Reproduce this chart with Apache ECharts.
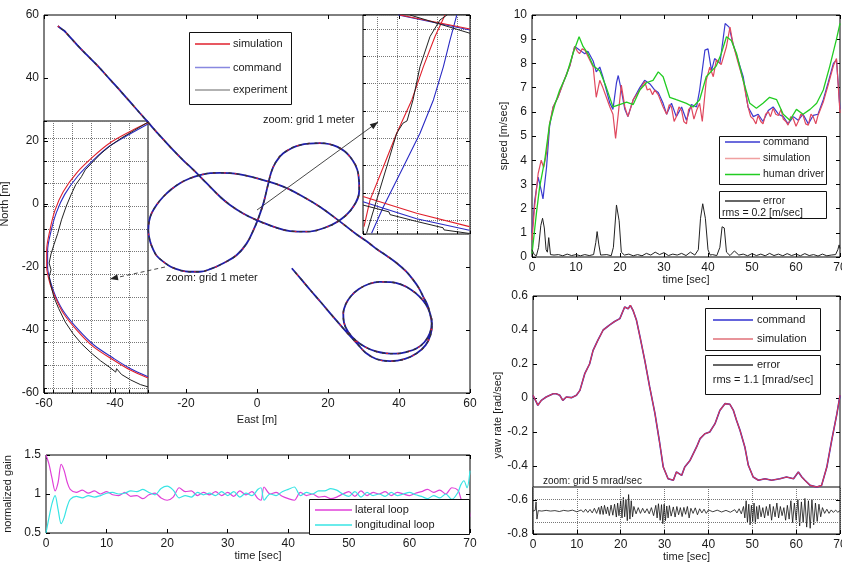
<!DOCTYPE html>
<html>
<head>
<meta charset="utf-8">
<script src="https://cdn.jsdelivr.net/npm/echarts@6/dist/echarts.min.js"></script>
<style>
html,body{margin:0;padding:0;background:#fff;}
#main{width:842px;height:564px;}
</style>
</head>
<body>
<div id="main"></div>
<script>
// trajectory East/North [m]
var pathEN = [
[-56.1,56.5],[-55.2,55.7],[-54.3,55.0],[-53.4,53.9],[-52.2,52.4],[-50.5,50.3],[-48,47.4],[-45,44],[-41.3,39.4],[-38,35.3],[-34.5,30.8],[-30.9,26.2],[-27.3,21.6],[-23.6,17.1],[-20.7,13.8],[-17.9,10.8],[-14.2,6.6],[-10.4,2.3],[-7.6,-0.3],[-3.9,-3.0],[-0.1,-5.1],[4.6,-7.2],[9.3,-8.6],[14,-8.8],[18.7,-7.7],[23.4,-5.1],[27.1,-0.9],[28.8,4.4],[28.5,9.7],[26.2,15],[22.5,18.2],[17.7,19.3],[12.1,18.7],[7.4,16.1],[5.1,12.9],[3.9,9.7],[3.2,6.6],[2.5,3.3],[1.8,0.2],[0.4,-4.5],[-1.0,-8.3],[-2.9,-12.5],[-5.7,-16.2],[-9.5,-18.8],[-13,-20.6],[-16.1,-21.5],[-19,-21.5],[-21.7,-21.0],[-24.3,-19.9],[-26.4,-18.3],[-28.2,-16.5],[-29.2,-14.6],[-30.2,-11.5],[-30.6,-8.3],[-30.4,-5.5],[-29.7,-3.0],[-28.3,-0.3],[-26.4,2.3],[-24.2,4.6],[-21.7,6.6],[-19,8.1],[-16.1,9.2],[-13.2,9.8],[-10.4,9.9],[-7.6,9.8],[-4.8,9.4],[-1.5,8.6],[1.8,7.6],[7.4,5.5],[13.0,2.3],[17.7,-0.9],[23.4,-5.6],[28,-9.6],[31.8,-12.6],[33.7,-14.3],[36.6,-16.5],[39.4,-18.8],[42,-21.4],[44,-24.1],[45.6,-26.7],[46.8,-29.4],[48.0,-32],[48.7,-34.7],[49.2,-37.9],[48.7,-41.0],[47.2,-43.8],[45,-45.8],[42,-47],[39,-47.5],[36.5,-47.4],[33.5,-46.8],[30.5,-45.4],[27.8,-43.3],[25.7,-40.6],[24.5,-37.6],[24.3,-34.8],[25,-31.8],[26.5,-29.2],[28.7,-27],[31.5,-25.4],[34.6,-24.7],[37.7,-24.8],[40.7,-25.6],[43.4,-27.2],[45.7,-29.3],[47.6,-31.9],[48.8,-34.9],[49.3,-38],[48.9,-41.5],[47.5,-44.8],[45,-47.4],[41.7,-49.2],[37.5,-49.9],[33.6,-49.2],[30.6,-47.2],[28.5,-44.7],[26.2,-41.9],[24.0,-39.1],[21,-35.2],[18,-31.2],[15,-27.3],[12.3,-23.7],[9.8,-20.4]
];

// left zoom window (1 m grid)
var zoomLeftSim = [[5.0,11.68],[4.04,11.28],[2.99,10.78],[2.10,10.17],[1.24,9.46],[0.54,8.64],[0.11,7.83],[-0.16,6.95],[-0.33,6.07],[-0.33,5.34],[-0.16,4.61],[0.11,4.02],[0.54,3.30],[1.24,2.56],[2.12,1.82],[3.16,1.24],[4.04,0.80],[5.0,0.44]];
var zoomLeftCmd = [[5.0,11.62],[4.05,11.18],[3.0,10.66],[2.15,10.05],[1.32,9.34],[0.62,8.52],[0.18,7.72],[-0.1,6.9],[-0.28,6.05],[-0.28,5.3],[-0.1,4.6],[0.16,4.0],[0.6,3.32],[1.3,2.6],[2.17,1.88],[3.2,1.3],[4.06,0.86],[5.0,0.5]];
var zoomLeftExp = [[5.0,11.7],[4.3,11.35],[3.6,11.0],[3.0,10.65],[2.5,10.3],[2.1,9.95],[1.7,9.6],[1.5,9.3],[1.2,8.95],[0.95,8.5],[0.7,8.0],[0.45,7.4],[0.25,6.8],[0.05,6.3],[-0.1,5.9],[-0.2,5.5],[-0.1,5.2],[-0.2,4.9],[-0.1,4.5],[0.05,4.0],[0.3,3.5],[0.65,2.9],[1.05,2.4],[1.5,1.95],[2.0,1.55],[2.5,1.2],[3.0,0.9],[3.3,0.7],[3.35,0.85],[3.6,0.6],[4.1,0.35],[4.6,0.15],[5.0,0.05]];

// right zoom window (1 m grid)
var zoomRightSim = [[[-0.65,-0.24],[-0.35,0.73],[0.32,1.95],[0.985,3.18],[1.74,4.40],[2.32,5.62],[2.9,6.72],[3.4,7.51]],[[1.15,7.51],[4.65,7.0]],[[-0.7,0.86],[1.98,0.25],[4.62,-0.24]]];
var zoomRightCmd = [[[-0.27,-0.48],[0.32,0.49],[1.32,1.95],[2.15,3.18],[2.82,4.40],[3.32,5.62],[3.65,6.59],[3.99,7.51]],[[1.07,7.51],[4.65,6.96]],[[-0.7,0.67],[1.98,0.05],[4.62,-0.37]]];
var zoomRightExp = [[[-0.52,-0.48],[-0.02,0.73],[0.485,1.95],[0.985,3.18],[1.3,3.55],[1.5,3.63],[1.8,4.40],[2.15,5.62],[2.65,6.72],[3.15,7.33],[3.5,7.51]],[[1.65,7.51],[4.65,6.84]],[[-0.7,0.55],[0.6,0.3],[0.65,0.2],[1.98,-0.05],[3.3,-0.28],[3.35,-0.36],[4.62,-0.49]]];

// normalized gain
var gainLat = [[0,1.5],[0.5,1.38],[1,1.2],[1.5,1.04],[2,1.15],[2.5,1.38],[3,1.3],[3.5,1.15],[4,1.06],[5,1.02],[6,1.05],[7,1.01],[8,1.04],[9,1.0],[10,1.03],[11,0.99],[12,0.98],[13,1.02],[14,0.97],[15,0.98],[16,0.94],[17,0.99],[18,1.01],[19,0.95],[20,0.92],[21,0.96],[22,1.08],[23,1.03],[24,1.04],[25,0.98],[26,1.02],[27,0.99],[28,1.03],[29,0.98],[30,1.02],[31,0.97],[32,1.04],[33,0.99],[34,1.03],[35,0.94],[35.5,0.92],[36,1.09],[37,1.0],[38,1.02],[39,0.97],[40,0.94],[41,0.92],[42,1.02],[43,0.98],[44,1.0],[45,0.96],[46,0.97],[47,0.94],[48,0.96],[49,1.0],[50,1.03],[51,0.97],[52,1.04],[53,0.98],[54,1.02],[55,1.0],[56,1.03],[57,0.98],[58,1.02],[59,1.0],[60,0.98],[61,1.01],[62,1.03],[63,1.06],[64,1.02],[65,1.05],[66,1.0],[67,1.08],[68,1.05],[68.5,0.94],[69,0.84],[69.5,0.93],[70,0.71]];
var gainLon = [[0,0.5],[0.5,0.7],[1,0.88],[1.5,0.98],[2,0.8],[2.5,0.62],[3,0.7],[3.5,0.84],[4,0.93],[5,0.97],[6,0.95],[7,0.98],[8,0.96],[9,0.98],[10,1.01],[11,1.02],[12,1.0],[13,1.01],[14,1.04],[15,1.03],[16,1.06],[17,1.02],[18,0.99],[19,1.07],[20,1.1],[21,1.05],[22,0.95],[23,0.98],[24,0.96],[25,1.02],[26,0.99],[27,1.01],[28,0.98],[29,1.03],[30,0.98],[31,1.03],[32,0.96],[33,1.01],[34,0.98],[35,1.06],[35.5,1.08],[36,0.92],[37,1.0],[38,0.98],[39,1.03],[40,1.06],[41,1.09],[42,0.98],[43,1.02],[44,1.0],[45,1.04],[46,1.04],[47,1.07],[48,1.05],[49,1.0],[50,0.97],[51,1.03],[52,0.96],[53,1.02],[54,0.98],[55,1.0],[56,0.97],[57,1.02],[58,0.98],[59,1.0],[60,1.02],[61,0.99],[62,0.97],[63,0.94],[64,0.98],[65,0.95],[66,1.0],[67,0.93],[68,1.02],[68.5,1.12],[69,1.17],[69.5,1.08],[70,1.3]];

// speed [m/sec]
var speedCmd = [[0,1.0],[0.6,2.3],[1.4,3.3],[2.1,2.75],[2.5,2.4],[3.3,3.7],[4.0,5.4],[4.8,6.2],[5.9,6.6],[7.1,7.2],[8.6,7.9],[9.7,8.7],[10.8,8.55],[12,8.4],[12.7,8.5],[13.9,8.1],[14.6,7.65],[15.4,7.85],[16.1,7.45],[16.9,6.9],[17.7,6.35],[18.4,6.1],[19.2,7.2],[19.6,7.5],[20.3,6.9],[21.1,6.1],[21.8,5.8],[23,6.5],[24.5,7.0],[25.6,7.3],[26.8,7.15],[27.9,6.9],[28.7,6.8],[29.8,6.35],[30.6,5.9],[31.7,6.35],[32.8,5.8],[34,6.2],[35.1,5.65],[36.2,6.3],[37.4,6.2],[38.1,6.9],[39.3,8.55],[40,8.6],[40.8,7.7],[41.5,8.2],[42.7,8.0],[43.9,9.65],[44.8,9.5],[45.7,8.8],[46.8,8.15],[48,7.45],[49.1,6.2],[50.3,5.8],[51.4,5.9],[52.5,5.6],[53.7,6.05],[54.8,6.2],[56,5.9],[57.1,5.8],[58.2,5.5],[59.4,5.8],[60.5,5.65],[61.6,5.9],[62.8,5.5],[63.9,5.85],[65,5.9],[66.2,6.5],[67.3,7.2],[68.5,8.0],[69.2,8.15],[70,6.1]];
var speedSim = [[0,0.7],[0.6,2.1],[1.4,3.45],[2.1,4.0],[2.65,3.7],[3.3,4.3],[4.0,5.5],[4.8,6.2],[5.9,6.6],[7.1,7.2],[8.6,7.9],[9.7,8.7],[10.3,8.5],[10.8,8.4],[11.4,8.6],[12,8.55],[12.7,8.3],[13.9,7.85],[14.6,6.6],[15.4,7.3],[16.1,7.0],[16.9,6.6],[17.7,6.2],[18.4,5.9],[19,4.9],[19.6,5.9],[20.3,7.1],[21.1,6.2],[21.8,5.8],[23,6.5],[24.5,6.9],[25.6,7.25],[26.2,6.9],[26.8,6.95],[27.4,6.7],[27.9,6.9],[28.7,6.7],[29.8,6.2],[30.6,5.9],[31.2,6.3],[31.7,6.2],[32.3,5.6],[32.8,5.8],[33.4,6.2],[34,6.05],[34.5,5.6],[35.1,5.5],[35.6,6.1],[36.2,6.2],[36.8,5.7],[37.4,6.05],[38.1,6.35],[38.7,5.6],[39.6,7.3],[40.4,7.85],[41.2,7.45],[41.9,8.15],[43.0,7.95],[44.2,8.7],[45.0,9.5],[45.7,8.8],[46.8,8.05],[48,7.3],[49.1,6.2],[49.7,5.8],[50.3,5.7],[50.9,5.5],[51.4,5.85],[52.0,5.6],[52.5,5.5],[53.1,5.9],[53.7,6.0],[54.2,5.8],[54.8,6.15],[55.4,5.9],[56,5.85],[56.6,6.1],[57.1,5.7],[57.7,5.6],[58.2,5.45],[58.8,5.8],[59.4,5.7],[60,5.4],[60.5,5.6],[61.1,5.9],[61.6,5.85],[62.2,5.5],[62.8,5.45],[63.4,5.9],[63.9,5.8],[64.5,5.5],[65,5.85],[66.2,6.4],[67.3,7.1],[68.5,7.9],[69.2,8.2],[70,5.95]];
var speedHuman = [[0,0.14],[1,1.8],[1.74,2.9],[2.9,4.0],[4.0,5.5],[5.2,6.3],[6.3,6.9],[7.8,7.5],[9.3,8.4],[10.7,9.1],[11.6,8.7],[12.7,8.4],[13.9,7.9],[15.4,7.7],[16.9,7.0],[18.4,6.2],[19.9,6.3],[21.5,6.4],[23,6.3],[24.5,6.9],[26,7.2],[27.5,7.3],[28.7,7.65],[29.8,7.45],[31.3,6.6],[32.8,6.5],[35.1,6.35],[36.6,6.2],[38.1,6.5],[39.6,7.45],[41.9,7.9],[43,8.4],[44.2,9.1],[45.3,8.95],[46.5,8.4],[48,7.3],[49.5,6.35],[51,6.15],[52.5,6.35],[54,6.6],[55.6,6.5],[57.1,5.9],[58.6,5.65],[60.1,6.1],[61.6,5.9],[63.2,6.1],[64.7,6.35],[66.2,6.9],[67.7,7.9],[69.2,9.0],[70,9.65]];
var speedErr = [[0,0.3],[0.5,0.1],[1,0.05],[1.5,0.4],[2,1.3],[2.4,1.6],[2.8,1.2],[3.2,0.3],[3.5,0.2],[3.8,0.8],[4.2,0.1],[5,0.08],[6,0.1],[7,0.05],[8,0.12],[9,0.06],[10,0.1],[11,0.05],[12,0.1],[13,0.06],[14,0.1],[14.5,0.6],[14.8,1.05],[15.2,0.5],[15.6,0.08],[16,0.05],[17,0.1],[18,0.05],[18.5,0.4],[19.2,2.15],[19.8,1.5],[20.3,0.2],[21,0.08],[22,0.12],[23,0.05],[24,0.1],[25,0.05],[26,0.15],[27,0.08],[28,0.2],[29,0.1],[30,0.18],[31,0.06],[32,0.12],[33,0.08],[34,0.15],[35,0.06],[36,0.2],[37,0.08],[37.8,0.3],[38.3,1.6],[38.8,2.2],[39.4,1.6],[40,0.3],[40.5,0.08],[41,0.1],[42,0.06],[42.7,0.4],[43.2,1.25],[43.7,1.2],[44.2,0.2],[45,0.06],[46,0.25],[47,0.08],[48,0.12],[49,0.05],[50,0.14],[51,0.06],[52,0.12],[53,0.05],[54,0.15],[55,0.06],[56,0.12],[57,0.05],[58,0.14],[59,0.06],[60,0.12],[61,0.05],[62,0.14],[63,0.06],[64,0.1],[65,0.04],[66,0.12],[67,0.05],[68,0.08],[69,0.1],[69.5,0.3],[69.8,0.5],[70,0.35]];

// yaw rate [rad/sec]
var yawRate = [[0,0.016],[0.76,-0.024],[1.1,-0.043],[1.9,-0.014],[3.0,0.006],[4.6,0.025],[5.3,0.025],[6.1,0.016],[6.8,-0.014],[7.6,0.006],[8.75,0.002],[9.9,0.016],[10.7,0.045],[11.8,0.143],[12.9,0.2],[13.7,0.28],[14.8,0.34],[16.0,0.4],[17.5,0.43],[18.6,0.45],[19.8,0.467],[20.9,0.535],[21.7,0.525],[22.2,0.545],[22.8,0.516],[23.6,0.457],[24.4,0.36],[25.5,0.22],[26.6,0.065],[27.8,-0.09],[28.8,-0.25],[29.7,-0.406],[30.8,-0.475],[32,-0.484],[32.7,-0.435],[33.9,-0.455],[34.6,-0.406],[35.8,-0.367],[37.3,-0.288],[38.1,-0.239],[39.2,-0.21],[40.3,-0.2],[41.5,-0.151],[42.6,-0.073],[43.8,-0.033],[44.9,-0.037],[45.7,-0.073],[46.4,-0.131],[47.2,-0.19],[48.3,-0.288],[49.1,-0.396],[50.2,-0.465],[51.4,-0.484],[52.9,-0.475],[54.4,-0.484],[56.3,-0.475],[57.8,-0.465],[59.4,-0.475],[60.5,-0.435],[61.3,-0.465],[62,-0.484],[63.2,-0.514],[64.7,-0.524],[65.8,-0.514],[67,-0.406],[68.1,-0.25],[69.3,-0.092],[70,0.016]];
// yaw error, zoom strip [mrad/sec]
var yawErr = [[0,0],[0.5,0.3],[0.7,4],[0.9,-3.5],[1.2,0.2],[2,0],[3,0.3],[4,0],[5,0.2],[6,-0.2],[7,0.3],[8,0],[9,0.4],[10,-0.3],[11,0.5],[11.5,-0.5],[12,0.8],[12.5,-0.6],[13,0.7],[13.5,-0.8],[14,1.2],[14.5,-1.0],[15,1.6],[15.3,-1.4],[15.6,2.2],[16,-1.5],[16.3,2.5],[16.7,-1.2],[17,1.8],[17.4,-2.0],[17.8,2.6],[18.2,-1.8],[18.6,3.0],[19,-2.6],[19.3,3.5],[19.6,-2.0],[20,4.5],[20.3,-3],[20.6,6.0],[20.9,-2.5],[21.2,5.0],[21.5,-4.2],[21.8,7.2],[22.1,-3.5],[22.4,4.5],[22.7,-2.5],[23,2.0],[23.5,-1.2],[24,1.5],[24.5,-1.0],[25,1.2],[25.5,-0.8],[26,1.0],[26.5,-1.2],[27,1.5],[27.5,-2.0],[28,2.5],[28.3,-3.0],[28.6,3.2],[29,-4.0],[29.3,2.8],[29.6,-5.5],[29.9,3.0],[30.2,-4.2],[30.5,2.2],[30.8,-3.0],[31.1,2.4],[31.5,-2.2],[32,1.8],[32.4,-2.6],[32.8,2.0],[33.2,-1.6],[33.6,1.5],[34,-2.4],[34.4,1.6],[34.8,-1.4],[35.2,2.0],[35.6,-3.0],[36,1.2],[36.5,-1.0],[37,1.4],[37.5,-1.6],[38,1.0],[38.5,-0.8],[39,0.8],[39.5,-1.0],[40,0.5],[41,-0.3],[42,0.4],[43,-0.4],[44,0.3],[45,-0.5],[46,0.6],[46.5,-0.8],[47,1.0],[47.5,-1.2],[48,2.0],[48.3,-3.0],[48.6,4.5],[48.9,-5.0],[49.2,3.0],[49.5,-6.0],[49.8,2.5],[50.1,-4.5],[50.4,3.5],[50.7,-5.5],[51,2.0],[51.3,-3.5],[51.6,2.5],[52,-2.5],[52.4,1.5],[52.8,-3.0],[53.2,2.0],[53.6,-2.0],[54,3.0],[54.4,-4.0],[54.8,2.0],[55.2,-2.5],[55.6,3.5],[56,-3.0],[56.4,2.0],[56.8,-2.0],[57.2,1.5],[57.6,-4.0],[58,2.5],[58.4,-3.5],[58.8,4.5],[59.2,-5.0],[59.6,3.5],[60,-4.0],[60.4,5.0],[60.8,-6.5],[61.2,4.0],[61.6,-5.0],[62,5.5],[62.4,-7.0],[62.8,4.5],[63.2,-7.5],[63.6,5.0],[64,-6.0],[64.4,3.5],[64.8,-4.5],[65.2,3.0],[65.6,-2.5],[66,1.5],[66.5,-1.0],[67,0.8],[67.5,-1.0],[68,0.5],[68.5,-0.6],[69,0.4],[69.5,-0.5],[70,0.2]];

var ff = 'Liberation Sans, Arial, Helvetica, sans-serif';
var txt = '#1a1a1a';
var cSim = '#e0202c', cCmd = '#2a2ac4', cExp = '#222222';

function tickAxis(gi, pos, min, max, interval, labels, extra) {
    var a = {
        gridIndex: gi, type: 'value', position: pos, min: min, max: max, interval: interval,
        axisLine: {show: false, onZero: false},
        axisTick: {show: true, inside: true, length: 4, lineStyle: {color: '#000', width: 1}},
        axisLabel: {show: labels, color: txt, fontSize: 12, fontFamily: ff, margin: 5},
        splitLine: {show: false}
    };
    if (extra) for (var k in extra) a[k] = extra[k];
    return a;
}
function zoomAxis(gi, pos, min, max, splitNumber) {
    return {
        gridIndex: gi, type: 'value', position: pos, min: min, max: max, splitNumber: splitNumber,
        axisLine: {show: false, onZero: false},
        axisTick: {show: true, inside: true, length: 3, lineStyle: {color: '#000'}},
        axisLabel: {show: false},
        splitLine: {show: true, lineStyle: {type: 'dotted', color: '#777', width: 1}}
    };
}
function nameOpt(name, gap) {
    return {name: name, nameLocation: 'middle', nameGap: gap, nameTextStyle: {color: txt, fontSize: 11, fontFamily: ff}};
}
function merge(a, b) { for (var k in b) a[k] = b[k]; return a; }

var grids = [
    {left: 44, top: 15, width: 426, height: 378},   // 0 map
    {left: 44, top: 121, width: 104, height: 272},  // 1 left zoom
    {left: 363, top: 15, width: 107, height: 219},  // 2 right zoom
    {left: 46, top: 455, width: 424, height: 78},   // 3 gain
    {left: 532, top: 15, width: 308, height: 242},  // 4 speed
    {left: 533, top: 296, width: 307, height: 238}, // 5 yaw
    {left: 533, top: 487, width: 307, height: 47}   // 6 yaw error zoom
].map(function (g) {
    return merge(g, {show: true, borderColor: '#000', borderWidth: 1, backgroundColor: '#fff', containLabel: false, outerBoundsMode: 'none'});
});

var xAxes = [
    merge(tickAxis(0, 'bottom', -60, 60, 20, true), nameOpt('East [m]', 16)),
    tickAxis(0, 'top', -60, 60, 20, false),
    zoomAxis(1, 'bottom', -0.47, 5, 5),
    zoomAxis(2, 'bottom', -0.7, 4.65, 5),
    merge(tickAxis(3, 'bottom', 0, 70, 10, true), nameOpt('time [sec]', 17)),
    tickAxis(3, 'top', 0, 70, 10, false),
    merge(tickAxis(4, 'bottom', 0, 70, 10, true), nameOpt('time [sec]', 15)),
    tickAxis(4, 'top', 0, 70, 10, false),
    merge(tickAxis(5, 'bottom', 0, 70, 10, true), nameOpt('time [sec]', 16)),
    tickAxis(5, 'top', 0, 70, 10, false),
    merge(tickAxis(6, 'bottom', 0, 70, 10, false), {axisTick: {show: false}, splitLine: {show: true, lineStyle: {type: 'dotted', color: '#777'}}})
];
var yAxes = [
    merge(tickAxis(0, 'left', -60, 60, 20, true), nameOpt('North [m]', 25)),
    tickAxis(0, 'right', -60, 60, 20, false),
    zoomAxis(1, 'left', -0.22, 11.75, 12),
    zoomAxis(2, 'left', -0.51, 7.51, 8),
    merge(tickAxis(3, 'left', 0.5, 1.5, 0.5, true), nameOpt('normalized gain', 26)),
    tickAxis(3, 'right', 0.5, 1.5, 0.5, false),
    merge(tickAxis(4, 'left', 0, 10, 1, true), nameOpt('speed [m/sec]', 20)),
    tickAxis(4, 'right', 0, 10, 1, false),
    merge(tickAxis(5, 'left', -0.8, 0.6, 0.2, true), nameOpt('yaw rate [rad/sec]', 22)),
    tickAxis(5, 'right', -0.8, 0.6, 0.2, false),
    merge(tickAxis(6, 'left', -10, 10.5, 5, false), {axisTick: {show: false}})
];

function line(xi, yi, data, color, width, extra) {
    var s = {type: 'line', xAxisIndex: xi, yAxisIndex: yi, data: data, showSymbol: false, symbol: 'none',
        lineStyle: {color: color, width: width}, clip: true, silent: true};
    if (extra) merge(s, extra);
    return s;
}

var series = [
    line(0, 0, pathEN, '#1e1ea8', 1.8, {smooth: 0.4}),
    line(0, 0, pathEN, cSim, 1.2, {smooth: 0.4, lineStyle: {color: cSim, width: 1.2, type: [2, 9]}}),
    line(0, 0, pathEN, cExp, 1.3, {smooth: 0.4, lineStyle: {color: '#333', width: 1.3, type: [3, 5], dashOffset: 4}}),
    line(2, 2, zoomLeftCmd, cCmd, 1.1, {smooth: 0.3}),
    line(2, 2, zoomLeftSim, cSim, 1.1, {smooth: 0.3}),
    line(2, 2, zoomLeftExp, cExp, 1.0)
];
zoomRightCmd.forEach(function (d) { series.push(line(3, 3, d, cCmd, 1.1)); });
zoomRightSim.forEach(function (d) { series.push(line(3, 3, d, cSim, 1.1)); });
zoomRightExp.forEach(function (d) { series.push(line(3, 3, d, cExp, 1.0)); });
series.push(
    line(4, 4, gainLat, '#e040d8', 1.2, {smooth: 0.3}),
    line(4, 4, gainLon, '#38e4e4', 1.2, {smooth: 0.3}),
    line(6, 6, speedCmd, '#3a3ad0', 1.2),
    line(6, 6, speedSim, '#e0485e', 1.2),
    line(6, 6, speedHuman, '#22cc22', 1.3),
    line(6, 6, speedErr, '#222', 1.0),
    line(8, 8, yawRate, '#3030d0', 1.6),
    line(8, 8, yawRate, '#e0384a', 1.1),
    line(10, 10, yawErr, '#111', 0.8, {markLine: {silent: true, symbol: 'none', label: {show: false},
        lineStyle: {type: 'dotted', color: '#777', width: 1}, data: [{yAxis: 5}, {yAxis: -5}]}})
);

// ---- annotations / legends
var G = [];
function T(x, y, s, align, size) {
    G.push({type: 'text', x: x, y: y, z: 100, style: {text: s, fill: txt, font: (size || 11) + 'px ' + ff, textAlign: align || 'left', textVerticalAlign: 'middle'}});
}
function L(x1, y1, x2, y2, color, w, dash) {
    G.push({type: 'line', z: 100, shape: {x1: x1, y1: y1, x2: x2, y2: y2}, style: {stroke: color, lineWidth: w || 1, lineDash: dash || null}});
}
function R(x, y, w, h) {
    G.push({type: 'rect', z: 99, shape: {x: x, y: y, width: w, height: h}, style: {fill: '#fff', stroke: '#111', lineWidth: 1}});
}
function arrow(x1, y1, x2, y2, dash) {
    L(x1, y1, x2, y2, '#333', 0.9, dash);
    var dx = x2 - x1, dy = y2 - y1, len = Math.sqrt(dx * dx + dy * dy), ux = dx / len, uy = dy / len;
    var bx = x2 - ux * 8, by = y2 - uy * 8;
    G.push({type: 'polygon', z: 100, shape: {points: [[x2, y2], [bx - uy * 3, by + ux * 3], [bx + uy * 3, by - ux * 3]]}, style: {fill: '#222'}});
}

// map legend
R(189.5, 32.5, 102, 72);
L(195, 44, 230, 44, cSim, 1.5); T(233, 44, 'simulation');
L(195, 67.5, 230, 67.5, '#8888e0', 1.5); T(233, 67.5, 'command');
L(195, 90, 230, 90, '#999', 1.5); T(233, 90, 'experiment');
T(263, 120, 'zoom: grid 1 meter');
arrow(257, 210, 378, 122);
T(166, 278, 'zoom: grid 1 meter');
arrow(165, 267, 110, 279, [4, 3]);

// gain legend
R(309.5, 499.5, 160, 35);
L(315, 510, 352, 510, '#e040d8', 1.5); T(355, 510, 'lateral loop');
L(315, 525, 352, 525, '#38e4e4', 1.5); T(355, 525, 'longitudinal loop');

// speed legends
R(719.5, 136.5, 107, 48);
L(725, 142, 760, 142, '#3a3ad0', 1.5); T(763, 142, 'command', 'left', 10.5);
L(725, 158.5, 760, 158.5, '#f0a0a0', 1.5); T(763, 158.5, 'simulation', 'left', 10.5);
L(725, 174.5, 760, 174.5, '#22cc22', 1.5); T(763, 174.5, 'human driver', 'left', 10.5);
R(719.5, 191.5, 107, 27);
L(725, 201, 760, 201, '#333', 1.3); T(763, 201, 'error', 'left', 10.5);
T(722, 213, 'rms = 0.2 [m/sec]', 'left', 10.5);

// yaw legends
R(705.5, 308.5, 115, 42);
L(713, 320, 753, 320, '#3030d0', 1.5); T(757, 320, 'command');
L(713, 339, 753, 339, '#e07078', 1.5); T(757, 339, 'simulation');
R(705.5, 355.5, 115, 39);
L(713, 365, 753, 365, '#333', 1.3); T(757, 365, 'error');
T(763, 379.5, 'rms = 1.1 [mrad/sec]', 'center');
T(543, 481, 'zoom: grid 5 mrad/sec', 'left', 10);

var chart = echarts.init(document.getElementById('main'));
chart.setOption({
    animation: false,
    backgroundColor: '#fff',
    textStyle: {fontFamily: ff},
    grid: grids,
    xAxis: xAxes,
    yAxis: yAxes,
    series: series,
    graphic: {elements: G}
});
</script>
</body>
</html>
